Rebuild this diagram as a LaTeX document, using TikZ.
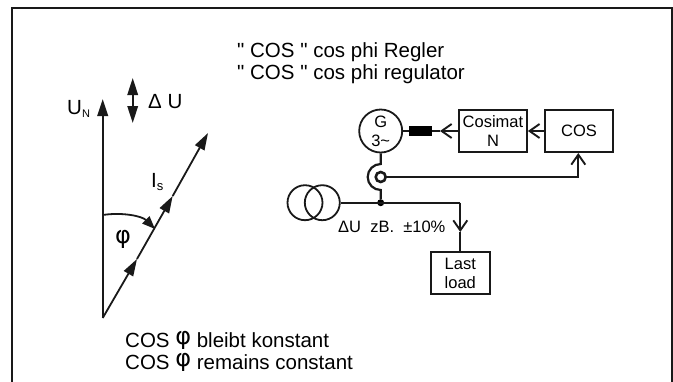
\documentclass[tikz,border=0pt]{standalone}
\usepackage{fontspec}
\setmainfont{Liberation Sans}
\newfontfamily\symfont{DejaVu Sans}
\usetikzlibrary{arrows.meta}
\newcommand{\qq}{\textquotedbl}
\newcommand{\phisym}{\raisebox{3pt}{\symfont\fontsize{24}{24}\selectfont φ}}
\tikzset{
  x=1pt,y=-1pt,
  wire/.style={line width=1.8pt,black!90},
  thick wire/.style={line width=2.3pt,black!90},
  box/.style={draw=black!90,line width=1.8pt,fill=white,minimum width=68pt,minimum height=42pt,inner sep=0pt,align=center,font=\fontsize{16.5}{19}\selectfont},
  lab/.style={inner sep=0pt,anchor=base west,font=\fontsize{20.5}{24}\selectfont},
  small/.style={inner sep=0pt,anchor=base west,font=\fontsize{16.5}{19}\selectfont},
  solidhead/.style={-{Triangle[length=17pt,width=10.5pt]}},
  openhead/.style={-{Straight Barb[length=10pt,width=14pt,line width=1.9pt]}},
}
\begin{document}
\begin{tikzpicture}
\useasboundingbox (0,0) rectangle (673,381);
\clip (0,0) rectangle (673,381);
% frame
\coordinate (fbl) at (12,385); \coordinate (ftl) at (12,8);
\coordinate (ftr) at (671.5,8); \coordinate (fbr) at (671.5,385);
\draw[line width=2pt,black!90] (fbl) -- (ftl) -- (ftr) -- (fbr);
% titles
\node[lab] (t1) at (237,57) {\qq{} COS \qq{} cos phi Regler};
\node[lab] (t2) at (237,79.5) {\qq{} COS \qq{} cos phi regulator};
% phasors
\coordinate (o) at (102.7,318);
\coordinate (un) at (102.7,99);
\coordinate (is) at (208,133);
\coordinate (is1) at (137,259);
\coordinate (is2) at (172.7,196);
\draw[thick wire,solidhead] (o) -- (un);
\draw[wire,solidhead] (o) -- (is1);
\draw[wire,solidhead] (is1) -- (is2);
\draw[wire,solidhead] (is2) -- (is);
\coordinate (du1) at (132.7,78); \coordinate (du2) at (132.7,123);
\draw[wire,{Triangle[length=17pt,width=10.5pt]}-{Triangle[length=17pt,width=10.5pt]}] (du1) -- (du2);
\coordinate (a1) at (102.7,215); \coordinate (a2) at (155,229);
\draw[wire,-{Triangle[length=13pt,width=10pt]}] (a1) .. controls (122,212) and (142,216) .. (a2);
\node[lab] (un lab) at (67,114) {U\raisebox{-3pt}{\fontsize{11}{12}\selectfont N}};
\node[lab] (du lab) at (148,108) {Δ U};
\node[lab] (is lab) at (151,187) {I\raisebox{-3.5pt}{\fontsize{13}{14}\selectfont s}};
\node[inner sep=0pt,font=\symfont\fontsize{24}{26}\selectfont] (phi) at (123,239) {φ};
\node[lab] (c1) at (125,347) {COS \phisym{} bleibt konstant};
\node[lab] (c2) at (125,369) {COS \phisym{} remains constant};
% circuit
\node[circle,draw=black!90,line width=1.8pt,minimum size=43pt,inner sep=0pt,align=center,font=\fontsize{16.5}{19}\selectfont] (g) at (380.7,131) {G\\3\textasciitilde};
\node[fill=black,minimum width=23pt,minimum height=10pt,inner sep=0pt] (ch) at (420.5,131) {};
\node[box] (cm) at (493,131) {Cosimat\\N};
\node[box,minimum width=68pt] (cos) at (579,131) {COS};
\node[box,minimum width=59pt] (last) at (460.3,273) {Last\\load};
\node[circle,draw=black!90,line width=1.8pt,minimum size=35pt,inner sep=0pt] (tr1) at (305,202.7) {};
\node[circle,draw=black!90,line width=1.8pt,minimum size=35pt,inner sep=0pt] (tr2) at (322.3,202.7) {};
\node[circle,draw=black!90,line width=2.6pt,minimum size=10pt,inner sep=0pt] (ct) at (380.7,177) {};
\node[circle,fill=black,minimum size=7pt,inner sep=0pt] (j) at (380.7,202.7) {};
\node[small] (dv) at (338,232) {ΔU\ \ zB.\ \ ±10\%};
\draw[wire] (g) -- (ch);
\coordinate (chtip) at (440,131);
\draw[wire] (chtip) -- (ch.east);
\draw[wire,openhead] (cm.west) -- (chtip);
\draw[wire,openhead] (cos.west) -- (cm.east);
\coordinate (c top) at (380.7,164); \coordinate (c bot) at (380.7,190);
\draw[wire,line width=2.2pt] (g.south) -- (c top) arc[start angle=-90,end angle=-270,radius=13] -- (j);
\draw[wire,openhead] (ct.east) -| (578.3,153);
\coordinate (corner) at (460.3,202.7);
\coordinate (lasttip) at (460.3,232);
\draw[wire] (tr2) -- (corner);
\draw[wire] (lasttip) -- (last.north);
\draw[wire,openhead] (corner) -- (lasttip);
\end{tikzpicture}
\end{document}
